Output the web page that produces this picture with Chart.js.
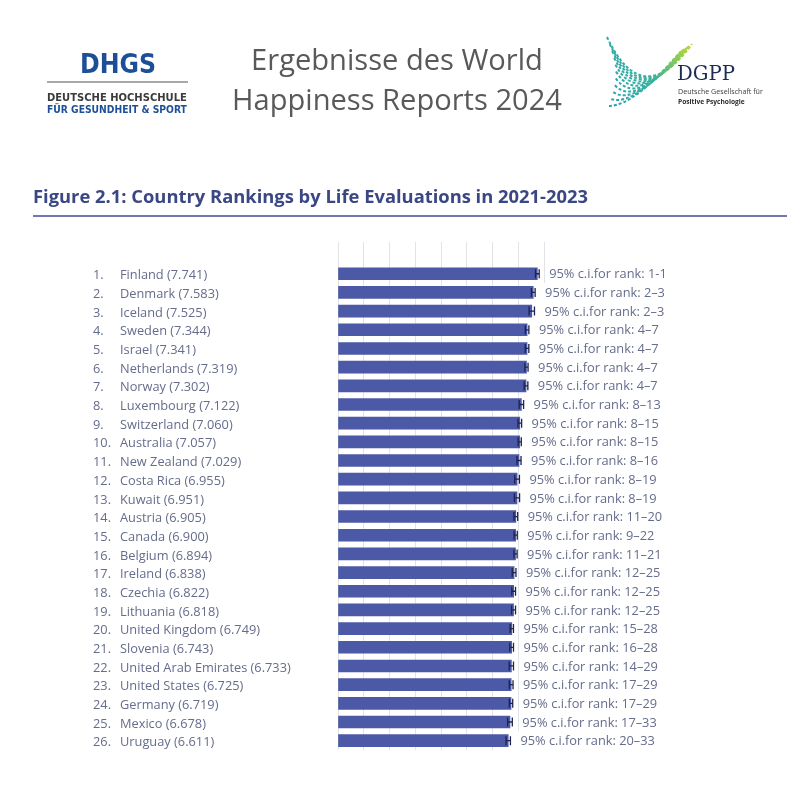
<!DOCTYPE html>
<html>
<head>
  <title>World Happiness Report 2024 – Figure 2.1</title>
  <style>
    body { margin: 0; padding: 0; background: #ffffff; }
    #chart { display: block; }
  </style>
</head>
<body>
  <canvas id="chart" width="800" height="800"></canvas>

  <script src="https://cdn.jsdelivr.net/npm/chart.js"></script>
  <script>
    // data
    const countries = [
      'Finland', 'Denmark', 'Iceland', 'Sweden', 'Israel', 'Netherlands', 'Norway',
      'Luxembourg', 'Switzerland', 'Australia', 'New Zealand', 'Costa Rica', 'Kuwait',
      'Austria', 'Canada', 'Belgium', 'Ireland', 'Czechia', 'Lithuania', 'United Kingdom',
      'Slovenia', 'United Arab Emirates', 'United States', 'Germany', 'Mexico', 'Uruguay'
    ];
    const scores = [
      7.741, 7.583, 7.525, 7.344, 7.341, 7.319, 7.302, 7.122, 7.060, 7.057, 7.029, 6.955, 6.951,
      6.905, 6.900, 6.894, 6.838, 6.822, 6.818, 6.749, 6.743, 6.733, 6.725, 6.719, 6.678, 6.611
    ];
    // whisker ends (estimated)
    const lowerWhisker = [
      7.669, 7.511, 7.420, 7.275, 7.271, 7.257, 7.231, 7.036, 6.989, 6.996, 6.950, 6.864, 6.851,
      6.832, 6.838, 6.833, 6.765, 6.750, 6.742, 6.684, 6.671, 6.651, 6.652, 6.653, 6.587, 6.526
    ];
    const upperWhisker = [
      7.813, 7.655, 7.630, 7.413, 7.411, 7.381, 7.373, 7.208, 7.131, 7.118, 7.108, 7.046, 7.051,
      6.978, 6.962, 6.955, 6.911, 6.894, 6.894, 6.814, 6.815, 6.815, 6.798, 6.785, 6.769, 6.696
    ];
    const rankCI = [
      '1-1', '2–3', '2–3', '4–7', '4–7', '4–7', '4–7', '8–13', '8–15', '8–15', '8–16', '8–19', '8–19',
      '11–20', '9–22', '11–21', '12–25', '12–25', '12–25', '15–28', '16–28', '14–29', '17–29', '17–29',
      '17–33', '20–33'
    ];
    const ranks = countries.map((c, i) => i + 1);

    const barColor = '#4b59a7';
    const whiskerColor = '#1c2350';
    const textColor = '#666c8c';
    const font = "'Open Sans', sans-serif";

    function fitSize(ctx, text, weight, family, width) {
      ctx.font = weight + ' 100px ' + family;
      return 100 * width / ctx.measureText(text).width;
    }

    // logos, page title and figure heading
    const headerPlugin = {
      id: 'header',
      beforeDraw(chart) {
        const ctx = chart.ctx;
        ctx.save();
        ctx.fillStyle = '#fff';
        ctx.fillRect(0, 0, 800, 800);

        // DHGS logo
        const cond = "'DejaVu Sans Condensed', 'DejaVu Sans', sans-serif";
        ctx.textBaseline = 'alphabetic';
        ctx.textAlign = 'left';
        let s = fitSize(ctx, 'DHGS', 'bold', cond, 76);
        ctx.font = 'bold ' + s + 'px ' + cond;
        ctx.fillStyle = '#1d4f98';
        ctx.fillText('DHGS', 80, 73);
        ctx.strokeStyle = '#8c8c8c';
        ctx.lineWidth = 1.5;
        ctx.beginPath(); ctx.moveTo(47, 82); ctx.lineTo(188, 82); ctx.stroke();
        s = fitSize(ctx, 'DEUTSCHE HOCHSCHULE', 'bold', cond, 140);
        ctx.font = 'bold ' + s + 'px ' + cond;
        ctx.fillStyle = '#3b3b3b';
        ctx.fillText('DEUTSCHE HOCHSCHULE', 47, 101);
        s = fitSize(ctx, 'FÜR GESUNDHEIT & SPORT', 'bold', cond, 140);
        ctx.font = 'bold ' + s + 'px ' + cond;
        ctx.fillStyle = '#1d4f98';
        ctx.fillText('FÜR GESUNDHEIT & SPORT', 47, 113);

        // page title
        ctx.textAlign = 'center';
        ctx.fillStyle = '#595959';
        const tf = "'Open Sans', sans-serif";
        s = fitSize(ctx, 'Happiness Reports 2024', 'normal', tf, 330);
        ctx.font = s + 'px ' + tf;
        ctx.fillText('Ergebnisse des World', 397, 70);
        ctx.fillText('Happiness Reports 2024', 397, 110);

        // DGPP swoosh: fan of dotted curves
        const grad = ctx.createLinearGradient(605, 105, 692, 42);
        grad.addColorStop(0, '#2b9fb8');
        grad.addColorStop(0.5, '#35b39c');
        grad.addColorStop(1, '#c5d82b');
        ctx.strokeStyle = grad;
        ctx.lineWidth = 2;
        ctx.setLineDash([3, 2]);
        const n = 11;
        for (let k = 0; k < n; k++) {
          const t = k / (n - 1);
          ctx.beginPath();
          ctx.moveTo(607 + t * 2 + Math.sin(t * Math.PI) * 8, 37 + t * 69);
          ctx.quadraticCurveTo(642 - t * 8, 112 - t * 6, 692 - t * 12, 44 + t * 8);
          ctx.stroke();
        }
        ctx.setLineDash([]);

        ctx.textAlign = 'left';
        const serif = "'DejaVu Serif', 'Liberation Serif', serif";
        s = fitSize(ctx, 'DGPP', 'normal', serif, 58);
        ctx.font = s + 'px ' + serif;
        ctx.fillStyle = '#1e2b57';
        ctx.fillText('DGPP', 677, 80);
        s = fitSize(ctx, 'Deutsche Gesellschaft für', 'normal', font, 85);
        ctx.font = s + 'px ' + font;
        ctx.fillStyle = '#3c3c3c';
        ctx.fillText('Deutsche Gesellschaft für', 678, 94);
        s = fitSize(ctx, 'Positive Psychologie', 'bold', font, 67);
        ctx.font = 'bold ' + s + 'px ' + font;
        ctx.fillStyle = '#2b2b2b';
        ctx.fillText('Positive Psychologie', 678, 104);

        // figure heading
        const heading = 'Figure 2.1: Country Rankings by Life Evaluations in 2021-2023';
        s = fitSize(ctx, heading, 'bold', font, 555);
        ctx.font = 'bold ' + s + 'px ' + font;
        ctx.fillStyle = '#3a4784';
        ctx.fillText(heading, 33, 203);
        ctx.strokeStyle = '#6f78b2';
        ctx.lineWidth = 2;
        ctx.beginPath(); ctx.moveTo(33, 216); ctx.lineTo(787, 216); ctx.stroke();
        ctx.restore();
      }
    };

    // whiskers, country labels and rank intervals
    const labelPlugin = {
      id: 'rowLabels',
      afterDatasetsDraw(chart) {
        const ctx = chart.ctx;
        const xs = chart.scales.x;
        const ys = chart.scales.y;
        ctx.save();
        ctx.textBaseline = 'middle';
        ctx.font = '12.8px ' + font;
        const band = Math.abs(ys.getPixelForValue(2) - ys.getPixelForValue(1));
        ranks.forEach((r, i) => {
          const y = ys.getPixelForValue(r);
          const x0 = xs.getPixelForValue(lowerWhisker[i]);
          const x1 = xs.getPixelForValue(upperWhisker[i]);
          ctx.strokeStyle = whiskerColor;
          ctx.lineWidth = 1.3;
          ctx.beginPath();
          ctx.moveTo(x0, y); ctx.lineTo(x1, y);
          ctx.moveTo(x0, y - 4.5); ctx.lineTo(x0, y + 4.5);
          ctx.moveTo(x1, y - 4.5); ctx.lineTo(x1, y + 4.5);
          ctx.stroke();

          const txt = '95% c.i.for rank: ' + rankCI[i];
          const tx = x1 + 10;
          const w = ctx.measureText(txt).width;
          ctx.fillStyle = '#fff';
          ctx.fillRect(tx - 3, y - band / 2, w + 6, band);
          ctx.fillStyle = textColor;
          ctx.textAlign = 'left';
          ctx.fillText(txt, tx, y + 1);

          ctx.fillText(r + '.', 93, y + 2);
          ctx.fillText(countries[i] + ' (' + scores[i].toFixed(3) + ')', 120, y + 2);
        });
        ctx.restore();
      }
    };

    const ctx = document.getElementById('chart').getContext('2d');
    new Chart(ctx, {
      type: 'bar',
      data: {
        datasets: [{
          data: ranks.map((r, i) => ({ x: scores[i], y: r })),
          backgroundColor: barColor,
          barThickness: 12,
          borderWidth: 0
        }]
      },
      options: {
        indexAxis: 'y',
        responsive: false,
        animation: false,
        layout: { padding: { left: 338, right: 256, top: 242, bottom: 50 } },
        plugins: {
          legend: { display: false },
          tooltip: { enabled: false }
        },
        scales: {
          x: {
            type: 'linear',
            min: 0,
            max: 8,
            ticks: { display: false, stepSize: 1 },
            grid: { color: '#e2e3e8', lineWidth: 1, drawTicks: false, tickLength: 0 },
            border: { display: false }
          },
          y: {
            type: 'linear',
            min: -0.7,
            max: 26.5,
            reverse: true,
            offset: false,
            display: false
          }
        }
      },
      plugins: [headerPlugin, labelPlugin]
    });
  </script>
</body>
</html>
